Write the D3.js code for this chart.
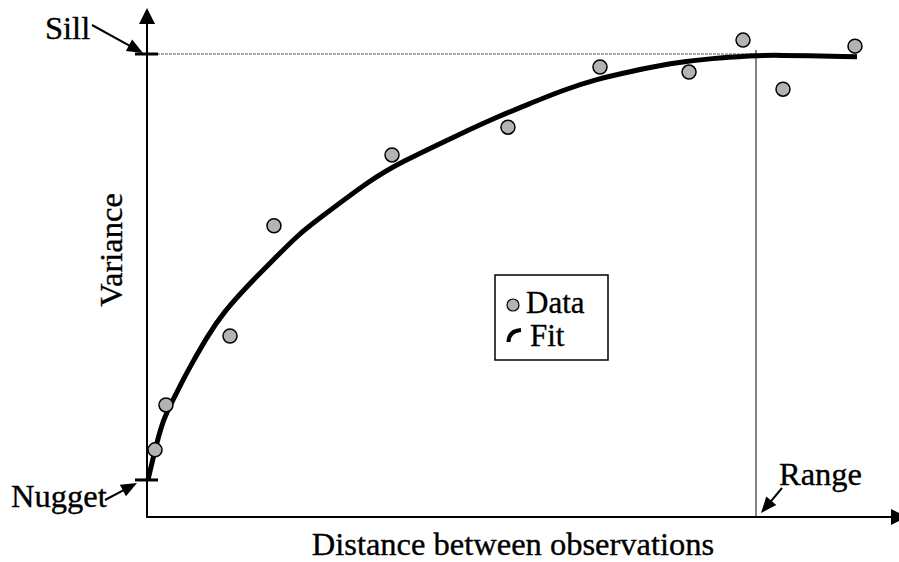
<!DOCTYPE html>
<html><head><meta charset="utf-8">
<script src="https://cdn.jsdelivr.net/npm/d3@7"></script>
<style>html,body{margin:0;padding:0;background:#fff;}svg{display:block;}</style>
</head><body>
<script>
// ---- data ----
const dataX = [1.07, 2.53, 11.07, 16.93, 32.67, 48.13, 60.4, 72.27, 79.47, 84.8, 94.4];
const dataY = [1.45, 2.42, 3.91, 6.29, 7.82, 8.42, 9.72, 9.61, 10.30, 9.24, 10.17];
const fitX = [0.13, 1.07, 2.13, 3.47, 4.8, 5.73, 8.0, 10.13, 13.73, 16.8, 20.4, 22.67, 30.13, 33.73, 41.33, 46.67, 51.07, 55.47, 60.0, 64.4, 69.73, 75.47, 80.8, 83.07, 94.67];
const fitY = [0.80, 1.45, 2.10, 2.53, 2.96, 3.24, 3.89, 4.41, 5.05, 5.55, 6.13, 6.41, 7.32, 7.65, 8.24, 8.64, 8.93, 9.22, 9.46, 9.62, 9.80, 9.91, 9.96, 9.98, 9.94];
const nugget = 0.8, sill = 10, range = 81.2;
const labels = {x: "Distance between observations", y: "Variance", sill: "Sill", nugget: "Nugget", range: "Range", data: "Data", fit: "Fit"};

const W = 899, H = 562;
const FONT = "'Liberation Serif', 'Times New Roman', serif";
const svg = d3.select("body").append("svg").attr("width", W).attr("height", H);
const x = d3.scaleLinear().domain([0, 100]).range([147, 897]);
const y = d3.scaleLinear().domain([0, 10]).range([517, 54]);
const x0 = x(0), y0 = y(0);

function arrowHead(tx, ty, fx, fy, len, wid) {
  const a = Math.atan2(ty - fy, tx - fx);
  const bx = tx - len * Math.cos(a), by = ty - len * Math.sin(a);
  const px = -Math.sin(a) * wid / 2, py = Math.cos(a) * wid / 2;
  return `M${tx},${ty}L${bx + px},${by + py}L${bx - px},${by - py}Z`;
}
function arrow(fx, fy, tx, ty, len, wid, sw) {
  const a = Math.atan2(ty - fy, tx - fx);
  svg.append("line").attr("x1", fx).attr("y1", fy)
    .attr("x2", tx - (len - 2) * Math.cos(a)).attr("y2", ty - (len - 2) * Math.sin(a))
    .attr("stroke", "#000").attr("stroke-width", sw);
  svg.append("path").attr("d", arrowHead(tx, ty, fx, fy, len, wid)).attr("fill", "#000");
}

// sill dashed line and range line
svg.append("line").attr("x1", x0 + 10).attr("x2", x(range)).attr("y1", y(sill)).attr("y2", y(sill))
  .attr("stroke", "#555").attr("stroke-width", 1).attr("stroke-dasharray", "3,1");
svg.append("line").attr("x1", x(range)).attr("x2", x(range)).attr("y1", y(sill) - 4).attr("y2", y0)
  .attr("stroke", "#333").attr("stroke-width", 1.2);

// axes
svg.append("line").attr("x1", x0).attr("y1", y0 + 1).attr("x2", x0).attr("y2", 20).attr("stroke", "#000").attr("stroke-width", 2);
svg.append("path").attr("d", arrowHead(x0, 8, x0, 100, 16, 16)).attr("fill", "#000");
svg.append("line").attr("x1", x0 - 1).attr("y1", y0).attr("x2", 895).attr("y2", y0).attr("stroke", "#000").attr("stroke-width", 2);
svg.append("path").attr("d", arrowHead(907, y0, 800, y0, 16, 16)).attr("fill", "#000");

// ticks for sill and nugget
[sill, nugget].forEach(v => {
  svg.append("line").attr("x1", x0 - 12).attr("x2", x0 + 11).attr("y1", y(v)).attr("y2", y(v))
    .attr("stroke", "#000").attr("stroke-width", 3);
});

// fit curve
const line = d3.line().x(d => x(d[0])).y(d => y(d[1])).curve(d3.curveBasis);
svg.append("path").datum(fitX.map((v, i) => [v, fitY[i]])).attr("d", line)
  .attr("fill", "none").attr("stroke", "#000").attr("stroke-width", 5).attr("stroke-linecap", "butt");

// data points
svg.selectAll("circle.pt").data(dataX.map((v, i) => [v, dataY[i]])).enter().append("circle")
  .attr("class", "pt").attr("cx", d => x(d[0])).attr("cy", d => y(d[1])).attr("r", 7)
  .attr("fill", "#b3b3b3").attr("stroke", "#000").attr("stroke-width", 1.5);

// annotations
arrow(92, 25, x0 - 4, y(sill) - 1, 16, 13, 2);
svg.append("text").attr("x", 45).attr("y", 39).text(labels.sill);
arrow(105, 500, x0 - 10, y(nugget) + 3, 16, 13, 2);
svg.append("text").attr("x", 11).attr("y", 507).text(labels.nugget);
arrow(782, 488, x(range) + 5, y0 - 4, 16, 13, 2);
svg.append("text").attr("x", 779).attr("y", 485).text(labels.range);

// axis titles
svg.append("text").attr("x", 513).attr("y", 555).attr("text-anchor", "middle").text(labels.x);
svg.append("text").attr("transform", "translate(122,250) rotate(-90)").attr("text-anchor", "middle").text(labels.y);

// legend
const lg = svg.append("g");
lg.append("rect").attr("x", 495).attr("y", 275).attr("width", 113).attr("height", 85)
  .attr("fill", "#fff").attr("stroke", "#000").attr("stroke-width", 1.5);
lg.append("circle").attr("cx", 513).attr("cy", 305).attr("r", 6).attr("fill", "#b3b3b3").attr("stroke", "#000").attr("stroke-width", 1.2);
lg.append("text").attr("x", 526).attr("y", 313).text(labels.data);
lg.append("path").attr("d", "M508.5,342 Q508.5,331 521,330").attr("fill", "none").attr("stroke", "#000").attr("stroke-width", 4);
lg.append("text").attr("x", 530).attr("y", 346).text(labels.fit);

svg.selectAll("text").attr("font-family", FONT).attr("font-size", 32.5).attr("fill", "#000")
  .attr("stroke", "#000").attr("stroke-width", 0.35);
lg.selectAll("text").attr("font-size", 31);
</script>
</body></html>
